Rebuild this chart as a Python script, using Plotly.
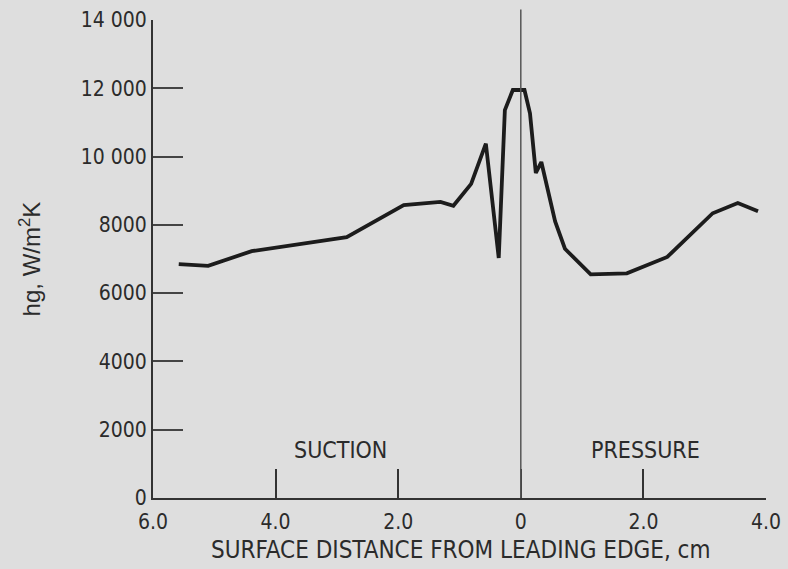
import plotly.graph_objects as go

# Signed surface distance (cm): suction side negative, pressure side positive
distance = [-5.58, -5.10, -4.39, -2.84, -1.91, -1.31, -1.10, -0.81, -0.57, -0.36,
            -0.26, -0.13, 0.06, 0.15, 0.245, 0.335, 0.56, 0.72, 1.14, 1.73,
            2.39, 3.13, 3.54, 3.87]
hg = [6850, 6800, 7230, 7640, 8580, 8670, 8560, 9200, 10380, 7030,
      11360, 11950, 11950, 11270, 9520, 9840, 8100, 7300, 6550, 6580,
      7060, 8340, 8640, 8400]

x_tickvals = [-6, -4, -2, 0, 2, 4]
x_ticktext = ["6.0", "4.0", "2.0", "0", "2.0", "4.0"]
y_tickvals = [0, 2000, 4000, 6000, 8000, 10000, 12000, 14000]
y_ticktext = ["0", "2000", "4000", "6000", "8000", "10 000", "12 000", "14 000"]

FONT = "Liberation Sans Narrow, DejaVu Sans Condensed, Arial Narrow, sans-serif"
INK = "#2b2b2b"
BG = "#dedede"

fig = go.Figure()
fig.add_trace(go.Scatter(
    x=distance, y=hg, mode="lines",
    line=dict(color="#1c1c1c", width=3.8),
    showlegend=False, hoverinfo="skip",
))

fig.add_shape(type="line", xref="x", yref="paper", x0=0, x1=0, y0=0, y1=1.022,
              line=dict(color="#555555", width=1.5))

fig.add_annotation(x=-2.94, y=1420, text="SUCTION", showarrow=False,
                   xanchor="center", yanchor="middle",
                   font=dict(family=FONT, size=23, color=INK))
fig.add_annotation(x=2.04, y=1420, text="PRESSURE", showarrow=False,
                   xanchor="center", yanchor="middle",
                   font=dict(family=FONT, size=23, color=INK))
fig.add_annotation(xref="paper", yref="paper", x=0.502, y=-0.109,
                   xanchor="center", yanchor="middle",
                   text="SURFACE DISTANCE FROM LEADING EDGE, cm", showarrow=False,
                   font=dict(family=FONT, size=24, color=INK))
fig.add_annotation(xref="paper", yref="paper", x=-0.200, y=0.50, textangle=-90,
                   xanchor="center", yanchor="middle",
                   text="hg, W/m<sup>2</sup>K", showarrow=False,
                   font=dict(family="Liberation Sans, Arial, sans-serif", size=24, color=INK))

fig.update_layout(
    width=788, height=569,
    margin=dict(l=153, r=22, t=20, b=71),
    paper_bgcolor=BG, plot_bgcolor=BG,
    font=dict(family=FONT, size=21, color=INK),
    xaxis=dict(range=[-6, 4], tickvals=x_tickvals, ticktext=x_ticktext,
               showgrid=False, zeroline=False, showline=True, linecolor="#333333",
               linewidth=2, ticks="inside", ticklen=29, tickwidth=2, tickcolor="#333333",
               ticklabelstandoff=4, automargin=False,
               tickfont=dict(family=FONT, size=21, color=INK)),
    yaxis=dict(range=[0, 14000], tickvals=y_tickvals, ticktext=y_ticktext,
               showgrid=False, zeroline=False, showline=True, linecolor="#333333",
               linewidth=2, ticks="inside", ticklen=30, tickwidth=1.5, tickcolor="#444444",
               automargin=False,
               tickfont=dict(family=FONT, size=21, color=INK)),
)

fig.write_html(
    "out.html",
    config={"displayModeBar": False},
    post_script="document.body.style.margin='0';document.body.style.overflow='hidden';",
)
